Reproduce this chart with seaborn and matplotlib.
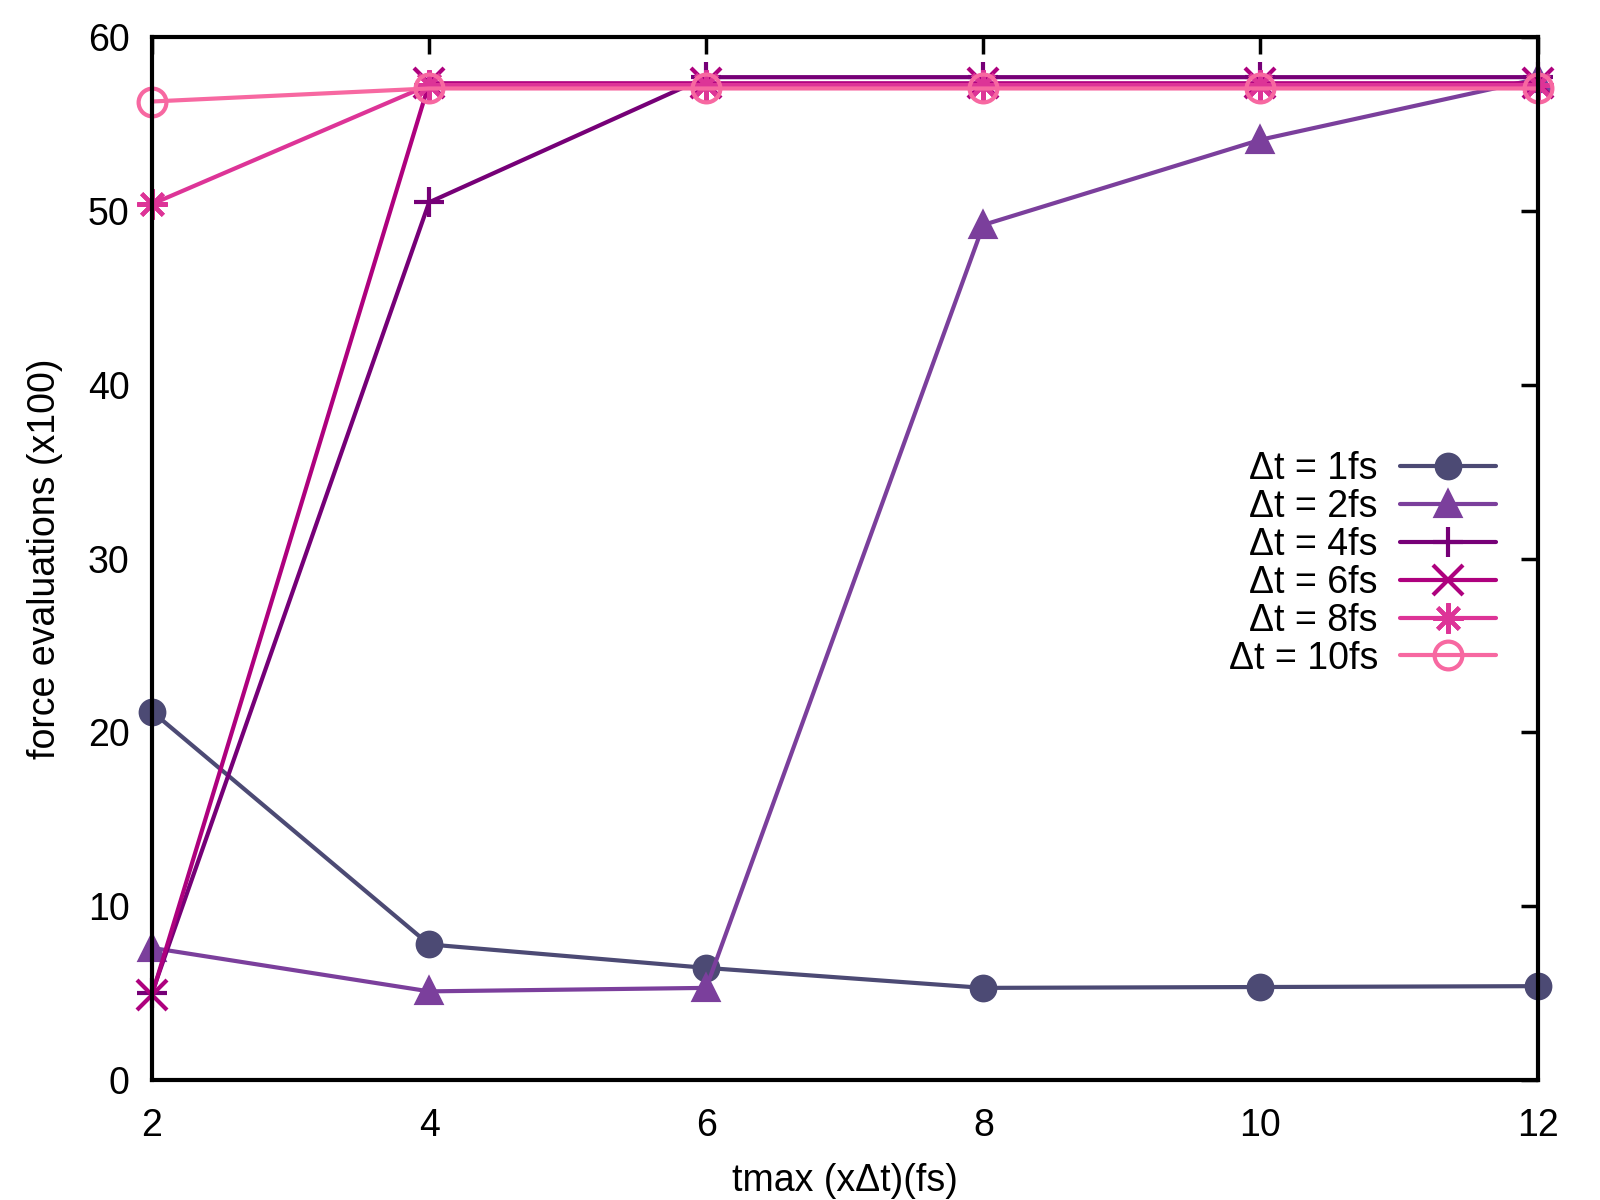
import numpy as np
import pandas as pd
import matplotlib
matplotlib.use("Agg")
import matplotlib.pyplot as plt
import seaborn as sns

# data
tmax = [2, 4, 6, 8, 10, 12]
dt1 = [21.2, 7.8, 6.45, 5.3, 5.35, 5.4]
dt2 = [7.6, 5.1, 5.3, 49.2, 54.1, 57.6]
dt4 = [5.0, 50.5, 57.7, 57.7, 57.7, 57.7]
dt6 = [4.9, 57.35, 57.35, 57.35, 57.35, 57.35]
dt8 = [50.4, 57.25, 57.25, 57.25, 57.25, 57.25]
dt10 = [56.3, 57.05, 57.05, 57.05, 57.05, 57.05]
labels = ["Δt = 1fs", "Δt = 2fs", "Δt = 4fs", "Δt = 6fs", "Δt = 8fs", "Δt = 10fs"]
colors = ["#4c4a74", "#7b3f9c", "#760077", "#ae017e", "#dd3497", "#f768a1"]

sns.set_style("white")
plt.rcParams['font.family'] = ['Liberation Sans', 'DejaVu Sans']
plt.rcParams['text.color'] = 'black'
plt.rcParams['axes.labelcolor'] = 'black'
plt.rcParams['xtick.color'] = 'black'
plt.rcParams['ytick.color'] = 'black'

fig, ax = plt.subplots(figsize=(16, 12), dpi=100)
fig.subplots_adjust(left=0.095, right=0.961, top=0.969, bottom=0.1)

series = [dt1, dt2, dt4, dt6, dt8, dt10]
markers = ["o", "^", "+", "x", (8, 2, 0), "o"]
sizes = [17, 17, 22, 22, 22, 20]
for vals, lab, col, mk, ms in zip(series, labels, colors, markers, sizes):
    df = pd.DataFrame({"t": tmax, "v": vals})
    face = "none" if lab == "Δt = 10fs" else col
    sns.lineplot(data=df, x="t", y="v", ax=ax, color=col, linewidth=3,
                 marker=mk, markersize=ms, markeredgewidth=3,
                 markerfacecolor=face, markeredgecolor=col, label=lab,
                 clip_on=False)

ax.set_xlim(2, 12)
ax.set_ylim(0, 60)
ax.set_xticks([2, 4, 6, 8, 10, 12])
ax.set_yticks(range(0, 61, 10))
ax.tick_params(direction="in", length=12, width=2.5, labelsize=27,
               top=True, right=True)
ax.tick_params(axis="x", pad=20)
ax.tick_params(axis="y", pad=16)
for s in ax.spines.values():
    s.set_linewidth(3)
    s.set_color("black")
    s.set_zorder(5)

ax.set_xlabel("tmax (xΔt)(fs)", fontsize=27, labelpad=14)
ax.set_ylabel("force evaluations (x100)", fontsize=27, labelpad=18)

ax.legend(loc="center right", bbox_to_anchor=(0.970, 0.495), frameon=False,
          markerfirst=False, fontsize=27, handlelength=2.55,
          labelspacing=0.05, handletextpad=0.6, borderpad=0,
          borderaxespad=0)

plt.savefig("out.png", dpi=100)
